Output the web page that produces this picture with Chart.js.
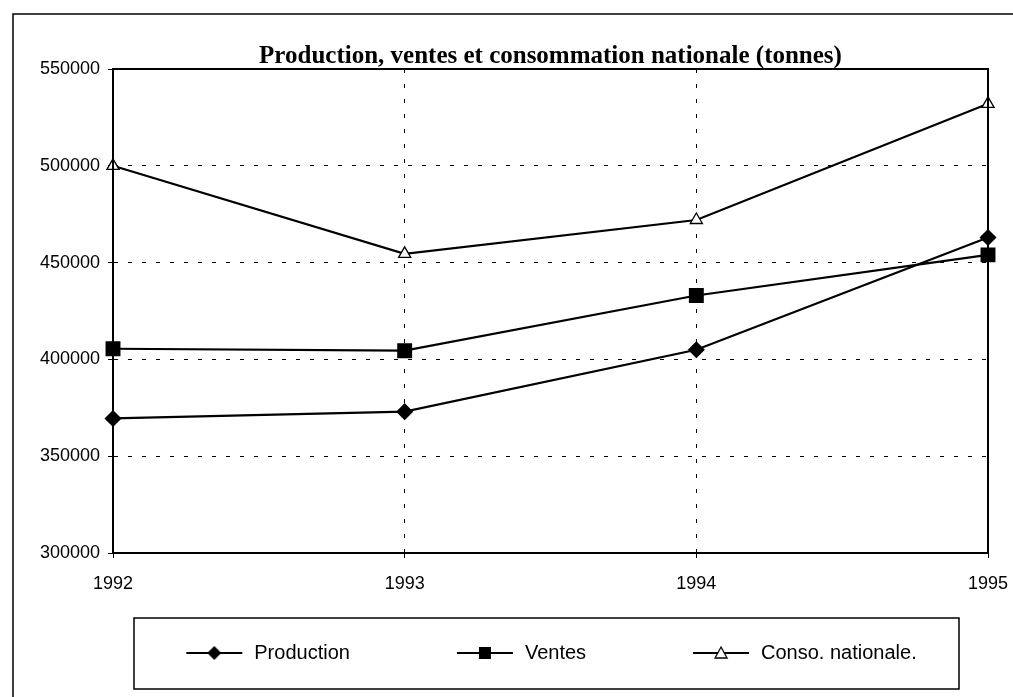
<!DOCTYPE html>
<html>
<head>
<meta charset="utf-8">
<script src="https://cdn.jsdelivr.net/npm/chart.js@4/dist/chart.umd.min.js"></script>
<style>
html,body{margin:0;padding:0;background:#fff;}
#wrap{width:1013px;height:697px;position:relative;}
</style>
</head>
<body>
<div id="wrap"><canvas id="c" width="1013" height="697"></canvas></div>
<script>
const categories = ['1992', '1993', '1994', '1995'];
const production = [369500, 373000, 405000, 463000];
const ventes = [405500, 404500, 433000, 454000];
const conso = [500000, 454500, 472000, 532000];
const seriesNames = ['Production', 'Ventes', 'Conso. nationale.'];
const chartTitle = 'Production, ventes et consommation nationale (tonnes)';
const yMin = 300000, yMax = 550000, yStep = 50000;

const ICON_BLANK = 75, ICON_W = 60;
function legendIcon(style) {
  const c = document.createElement('canvas');
  c.width = ICON_BLANK + ICON_W; c.height = 18;
  const x = c.getContext('2d');
  const o = ICON_BLANK;
  x.strokeStyle = '#000'; x.lineWidth = 2;
  x.beginPath(); x.moveTo(o + 2, 9); x.lineTo(o + 58, 9); x.stroke();
  x.fillStyle = '#000';
  if (style === 'diamond') {
    x.beginPath(); x.moveTo(o + 30, 2); x.lineTo(o + 37, 9); x.lineTo(o + 30, 16); x.lineTo(o + 23, 9); x.closePath(); x.fill();
  } else if (style === 'square') {
    x.fillRect(o + 24, 3, 12, 12);
  } else {
    x.fillStyle = '#fff'; x.lineWidth = 1.3;
    x.beginPath(); x.moveTo(o + 30, 3); x.lineTo(o + 36, 14); x.lineTo(o + 24, 14); x.closePath(); x.fill(); x.stroke();
  }
  return c;
}
const icons = [legendIcon('diamond'), legendIcon('square'), legendIcon('triangle')];

const frames = {
  id: 'frames',
  afterDraw(chart) {
    const ctx = chart.ctx, a = chart.chartArea, lg = chart.legend;
    ctx.save();
    ctx.strokeStyle = '#000';
    ctx.lineWidth = 2;
    ctx.strokeRect(a.left, a.top, a.right - a.left, a.bottom - a.top);
    ctx.lineWidth = 1.5;
    ctx.strokeRect(13, 14, 1100, 1000);
    const hb = lg.legendHitBoxes[0];
    const cy = hb.top + hb.height / 2;
    ctx.strokeRect(a.left + 21, cy - 35, a.right - a.left - 50, 71);
    ctx.restore();
  }
};

new Chart(document.getElementById('c'), {
  type: 'line',
  data: {
    labels: categories,
    datasets: [
      { label: seriesNames[0], data: production, borderColor: '#000', backgroundColor: '#000', borderWidth: 2.2,
        pointStyle: 'rectRot', pointRadius: 7, pointBackgroundColor: '#000', pointBorderColor: '#000', tension: 0 },
      { label: seriesNames[1], data: ventes, borderColor: '#000', backgroundColor: '#000', borderWidth: 2.2,
        pointStyle: 'rect', pointRadius: 9, pointBackgroundColor: '#000', pointBorderColor: '#000', tension: 0 },
      { label: seriesNames[2], data: conso, borderColor: '#000', backgroundColor: '#fff', borderWidth: 2.2,
        pointStyle: 'triangle', pointRadius: 7, pointBackgroundColor: '#fff', pointBorderColor: '#000', pointBorderWidth: 1.3, tension: 0 }
    ]
  },
  options: {
    responsive: false,
    animation: false,
    layout: { padding: { left: 38, right: 25, top: 0, bottom: 24 } },
    plugins: {
      title: {
        display: true, text: chartTitle, color: '#000', fullSize: false,
        font: { family: 'Liberation Serif', size: 25, weight: 'bold', lineHeight: 1.0 },
        padding: { top: 44, bottom: 0 }
      },
      legend: {
        position: 'bottom',
        labels: {
          color: '#000',
          font: { family: 'Liberation Sans', size: 20 },
          usePointStyle: true,
          pointStyleWidth: ICON_BLANK + ICON_W,
          padding: 30,
          generateLabels(chart) {
            return chart.data.datasets.map((d, i) => ({
              text: d.label, pointStyle: icons[i], fillStyle: '#000', strokeStyle: '#000',
              lineWidth: 0, hidden: false, datasetIndex: i, fontColor: '#000'
            }));
          }
        }
      },
      tooltip: { enabled: false }
    },
    scales: {
      x: {
        type: 'category',
        offset: false,
        afterFit(s) { s.height = 60; s.paddingLeft = 0; s.paddingRight = 0; },
        grid: { color: '#000', lineWidth: 1, tickLength: 5, drawOnChartArea: true },
        border: { display: true, color: '#000', width: 2, dash: [4, 11] },
        ticks: { color: '#000', font: { family: 'Liberation Sans', size: 18 }, padding: 15, maxRotation: 0 }
      },
      y: {
        min: yMin, max: yMax,
        afterFit(s) { s.width = 75; s.paddingTop = 0; s.paddingBottom = 0; },
        grid: { color: '#000', lineWidth: 1, tickLength: 5 },
        border: { display: true, color: '#000', width: 2, dash: [4, 10] },
        ticks: { stepSize: yStep, color: '#000', font: { family: 'Liberation Sans', size: 18 }, padding: 8,
          callback: (v) => String(v) }
      }
    }
  },
  plugins: [frames]
});
</script>
</body>
</html>
